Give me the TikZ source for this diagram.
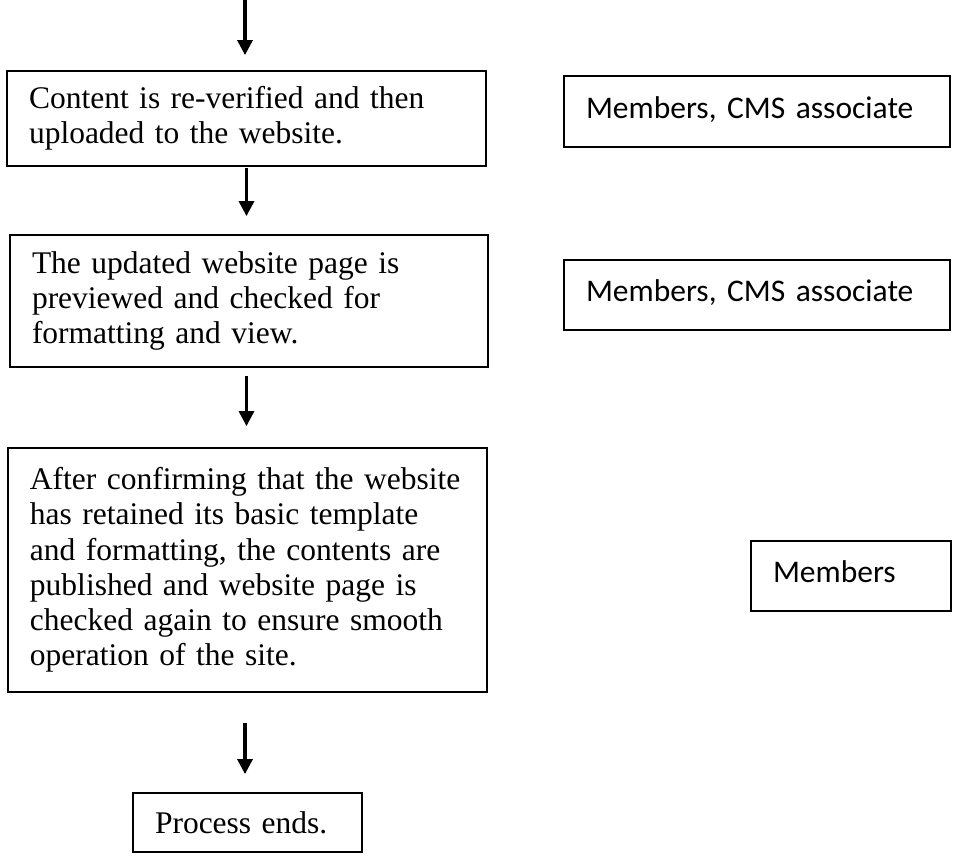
\documentclass[tikz,border=0pt]{standalone}
\usepackage{fontspec}
\setmainfont{Liberation Serif}
\newfontfamily\calib{Carlito}
\usetikzlibrary{arrows.meta}

\tikzset{
  stepbox/.style={draw, line width=1.8pt, rectangle, inner xsep=22pt, inner ysep=0pt,
    align=left, font=\fontsize{31.5}{35.2}\selectfont},
  rolebox/.style={stepbox, font=\calib\fontsize{31.5}{35.2}\selectfont, text depth=8pt},
  flow/.style={line width=3.2pt, -{Triangle[width=15pt,length=15pt]}},
}

\begin{document}
\begin{tikzpicture}[x=1pt, y=-1pt]
  \useasboundingbox (0,0) rectangle (954,855);

  % main process steps
  \node[stepbox, text width=435pt, minimum height=95pt] (s1) at (246.5,118.5)
    {Content is re-verified and then\\uploaded to the website.};
  \node[stepbox, text width=434pt, minimum height=132pt] (s2) at (249,301)
    {The updated website page is\\previewed and checked for\\formatting and view.};
  \node[stepbox, text width=435pt, minimum height=244pt] (s3) at (247.5,570)
    {After confirming that the website\\has retained its basic template\\and formatting, the contents are\\published and website page is\\checked again to ensure smooth\\operation of the site.};
  \node[stepbox, text width=185pt, minimum height=59pt] (s4) at (247.5,822.5)
    {Process ends.};

  % responsible parties
  \node[rolebox, text width=342pt, minimum height=71pt] (r1) at (757,111.5)
    {Members, CMS associate};
  \node[rolebox, text width=342pt, minimum height=70pt] (r2) at (757,295)
    {Members, CMS associate};
  \node[rolebox, text width=156pt, minimum height=70pt] (r3) at (851,576)
    {Members};

  % flow arrows
  \coordinate (start) at (245,0);
  \draw[flow, shorten >=15pt] (start) -- (start |- s1.north);
  \draw[flow, shorten <=1pt, shorten >=18pt] (s1.south) -- (s1.south |- s2.north);
  \draw[flow, shorten <=8pt, shorten >=21pt] (s2.south -| s1.south) -- (s1.south |- s3.north);
  \draw[flow, shorten <=30pt, shorten >=18pt] (s3.south -| start) -- (start |- s4.north);
\end{tikzpicture}
\end{document}
